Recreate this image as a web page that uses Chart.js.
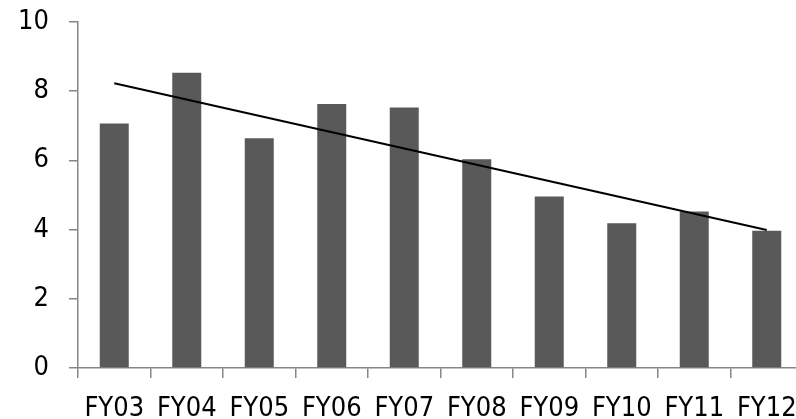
<!DOCTYPE html>
<html>
<head>
<meta charset="utf-8">
<script src="https://cdn.jsdelivr.net/npm/chart.js@4.4.0/dist/chart.umd.min.js"></script>
<style>
  html,body{margin:0;padding:0;background:#fff;overflow:hidden;}
  #wrap{width:803px;height:419px;}
</style>
</head>
<body>
<div id="wrap"><canvas id="chart" width="803" height="419"></canvas></div>
<script>
const categories=["FY03","FY04","FY05","FY06","FY07","FY08","FY09","FY10","FY11","FY12"];
const values=[7.07,8.53,6.64,7.63,7.53,6.03,4.96,4.18,4.52,3.97];
// trendline end points (only first and last are drawn)
const trend=[8.23,null,null,null,null,null,null,null,null,3.99];
const yTicks=[0,2,4,6,8,10];

const axisGray='#868686';
const font={family:'"DejaVu Sans Condensed", "Open Sans", sans-serif',size:27,lineHeight:1};

new Chart(document.getElementById('chart').getContext('2d'),{
  data:{
    labels:categories,
    datasets:[
      {type:'line',data:trend,borderColor:'#000',borderWidth:2,pointRadius:0,spanGaps:true,fill:false,order:0},
      {type:'bar',data:values,backgroundColor:'#595959',barPercentage:0.4,categoryPercentage:1,order:1}
    ]
  },
  options:{
    responsive:false,
    animation:false,
    devicePixelRatio:1,
    layout:{padding:0},
    plugins:{legend:{display:false},tooltip:{enabled:false}},
    scales:{
      x:{
        offset:true,
        grid:{offset:true,drawOnChartArea:false,drawTicks:true,tickLength:10,color:axisGray,lineWidth:1.5},
        border:{color:axisGray,width:1.5},
        ticks:{color:'#000',font:font,padding:17,maxRotation:0,autoSkip:false},
        afterFit:s=>{s.height=51;s.paddingLeft=0;s.paddingRight=0;}
      },
      y:{
        min:0,max:10,
        afterBuildTicks:s=>{s.ticks=yTicks.map(v=>({value:v}));},
        grid:{drawOnChartArea:false,drawTicks:true,tickLength:9,color:axisGray,lineWidth:1.5},
        border:{color:axisGray,width:1.5},
        ticks:{color:'#000',font:font,padding:20},
        afterFit:s=>{s.width=78;s.paddingTop=22;s.paddingBottom=0;}
      }
    }
  }
});
</script>
</body>
</html>
